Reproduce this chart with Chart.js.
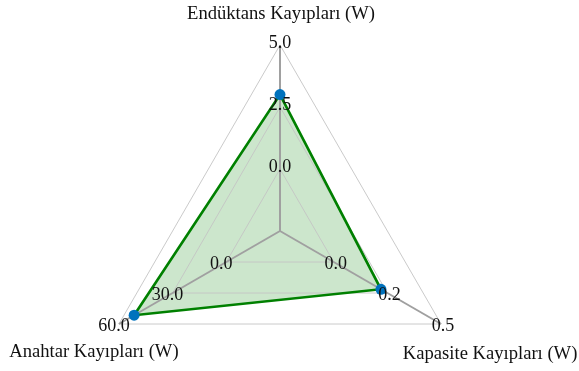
<!DOCTYPE html>
<html>
<head>
<meta charset="utf-8">
<script src="https://cdn.jsdelivr.net/npm/chart.js@4/dist/chart.umd.min.js"></script>
<style>
  html, body { margin: 0; padding: 0; background: #ffffff; overflow: hidden; }
  #c { display: block; }
</style>
</head>
<body>
<canvas id="c" width="579" height="371"></canvas>
<script>
// Axes, clockwise from the top
const axisNames = ['Endüktans Kayıpları (W)', 'Kapasite Kayıpları (W)', 'Anahtar Kayıpları (W)'];
const axisMin = [0, 0, 0];
const axisMax = [5.0, 0.5, 60.0];
const tickValues = [[0, 2.5, 5.0], [0, 0.25, 0.5], [0, 30, 60]];
const tickLabels = [['0.0', '2.5', '5.0'], ['0.0', '0.2', '0.5'], ['0.0', '30.0', '60.0']];
// Loss values (W)
const lossValues = [3.0, 0.22, 51.5];

// Every axis shares one 0..3 radial scale: its minimum sits on ring 1, its maximum on ring 3
const toRing = (v, i) => 1 + 2 * (v - axisMin[i]) / (axisMax[i] - axisMin[i]);

// Plot geometry
const CENTER_X = 280, CENTER_Y = 231, RADIUS = 186;
const FONT = '"Liberation Serif", "Times New Roman", serif';
const nameOffsets = [[1, -31], [49, 30], [-25, 28]];
const tickOffsets = [[0, -2], [2, 2], [-5, 2]];

const axisText = {
  id: 'axisText',
  afterDatasetsDraw(chart) {
    const ctx = chart.ctx;
    const r = chart.scales.r;
    ctx.save();
    ctx.fillStyle = '#111111';
    ctx.textAlign = 'center';
    ctx.textBaseline = 'middle';
    ctx.font = '18px ' + FONT;
    tickValues.forEach((vals, i) => {
      vals.forEach((v, k) => {
        const p = r.getPointPositionForValue(i, toRing(v, i));
        ctx.fillText(tickLabels[i][k], p.x + tickOffsets[i][0], p.y + tickOffsets[i][1]);
      });
    });
    ctx.font = '18.6px ' + FONT;
    axisNames.forEach((name, i) => {
      const p = r.getPointPositionForValue(i, 3);
      ctx.fillText(name, p.x + nameOffsets[i][0], p.y + nameOffsets[i][1]);
    });
    ctx.restore();
  }
};

new Chart(document.getElementById('c'), {
  type: 'radar',
  data: {
    labels: axisNames,
    datasets: [{
      data: lossValues.map(toRing),
      fill: true,
      backgroundColor: 'rgba(0, 128, 0, 0.2)',
      borderColor: '#008000',
      borderWidth: 2.6,
      pointBackgroundColor: '#0072bd',
      pointBorderWidth: 0,
      pointRadius: 5.5,
      pointHoverRadius: 5.5,
      clip: false
    }]
  },
  options: {
    responsive: false,
    devicePixelRatio: 1,
    animation: false,
    events: [],
    layout: { padding: 0 },
    plugins: {
      legend: { display: false },
      tooltip: { enabled: false },
      // fill goes down first so the grid stays visible on top of it
      filler: { drawTime: 'beforeDraw' }
    },
    scales: {
      r: {
        min: 0,
        max: 3,
        ticks: { display: false, stepSize: 1 },
        grid: { color: '#c4c4c4', lineWidth: 0.9 },
        angleLines: { color: '#a0a0a0', lineWidth: 2 },
        pointLabels: { display: false },
        afterFit(scale) {
          scale.xCenter = CENTER_X;
          scale.yCenter = CENTER_Y;
          scale.drawingArea = RADIUS;
        }
      }
    }
  },
  plugins: [axisText]
});
</script>
</body>
</html>
